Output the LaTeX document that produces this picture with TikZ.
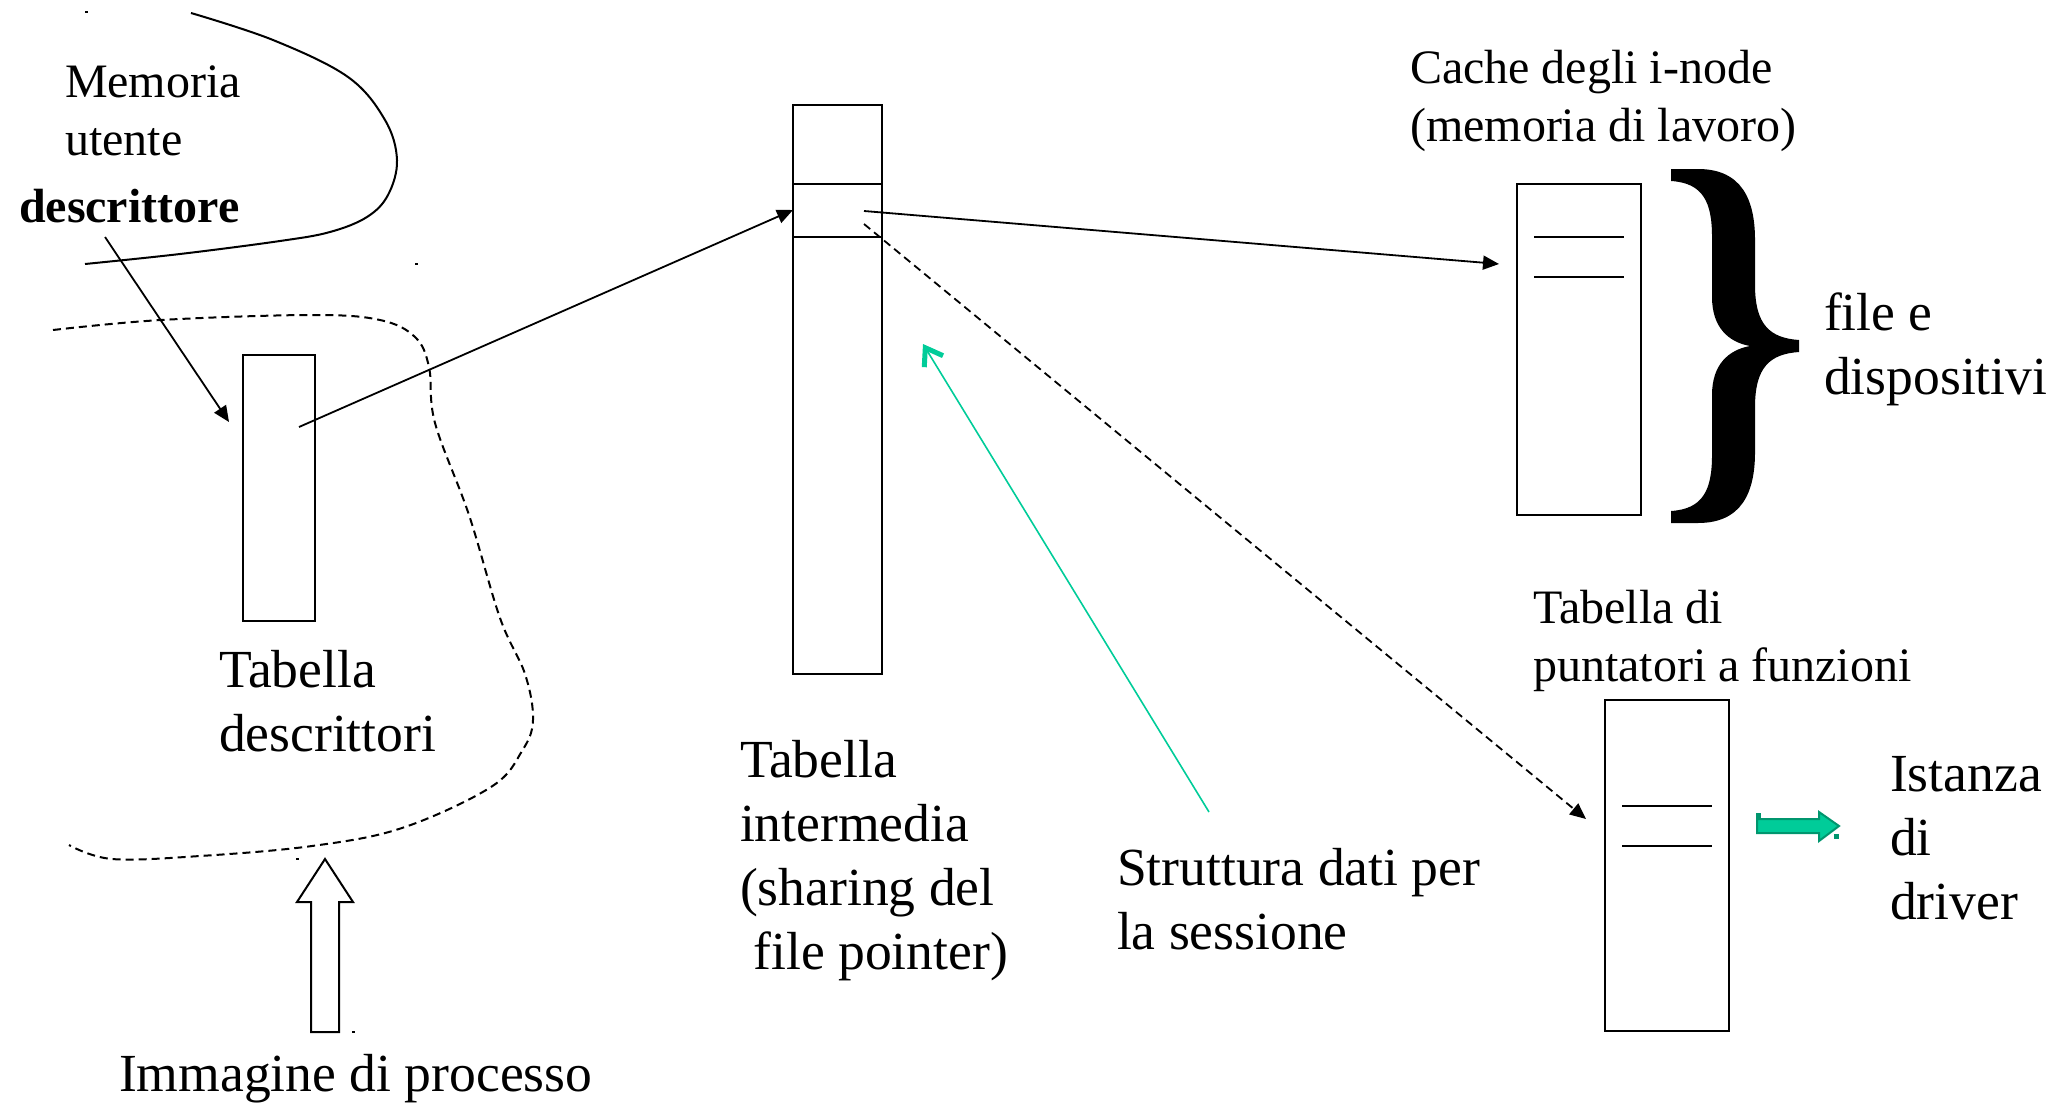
\documentclass[tikz,border=0pt]{standalone}
\usepackage{fontspec}
\setmainfont{Liberation Serif}
\usetikzlibrary{arrows.meta,calc}
\definecolor{teal1}{RGB}{0,204,153}
\definecolor{green1}{RGB}{0,204,153}
\definecolor{green2}{RGB}{0,150,110}
\newcommand\mlines[1]{\vtop{\halign{##\hfil\cr#1\crcr}}}
\newcommand\medf{\fontsize{24pt}{29pt}\selectfont}
\newcommand\bigf{\fontsize{26.8pt}{32pt}\selectfont}
\begin{document}
\begin{tikzpicture}[x=0.5pt,y=-0.5pt,
  lbl/.style={anchor=base west, inner sep=0pt, outer sep=0pt},
  box/.style={draw, line width=1.1pt, inner sep=0pt, outer sep=0pt, anchor=north west},
  rowline/.style={line width=1.1pt},
  conn/.style={line width=0.9pt, -{Triangle[length=8pt,width=7pt]}},
  dashconn/.style={conn, dash pattern=on 4pt off 2.5pt},
  bound/.style={line width=1pt},
  tealarrow/.style={draw=teal1, line width=0.8pt, -{Straight Barb[length=8pt,width=11pt,line width=2.5pt]}},
]
\useasboundingbox (0,0) rectangle (2049,1103);

% boundaries
\draw[bound] plot[smooth, tension=0.6] coordinates {(191,13) (273,40) (348,77) (385,120) (397,160) (388,195) (367,217) (330,232) (280,241) (180,254) (85,264)};
\draw[bound, dash pattern=on 4pt off 2.5pt] plot[smooth, tension=0.6] coordinates {(53,330) (161,320) (312,315) (380,320) (415,337) (429,367) (435,423) (469,515) (500,618) (525,674) (533,720) (522,751) (491,787) (402,828) (312,846) (200,856) (112,859) (69,845)};

% labels
\node[lbl,font=\medf] (memlbl) at (65,97) {\mlines{Memoria\cr utente}};
\node[lbl,font=\medf\bfseries] (desclbl) at (19,222) {descrittore};
\node[lbl,font=\bigf] (tdesclbl) at (219,687) {\mlines{Tabella\cr descrittori}};
\node[lbl,font=\bigf] (imglbl) at (119,1091) {Immagine di processo};
\node[lbl,font=\bigf] (tinterlbl) at (740,777) {\mlines{Tabella\cr intermedia\cr (sharing del\cr \ file pointer)}};
\node[lbl,font=\bigf] (sesslbl) at (1117,885) {\mlines{Struttura dati per\cr la sessione}};
\node[lbl,font=\medf] (cachelbl) at (1410,83) {\mlines{Cache degli i-node\cr (memoria di lavoro)}};
\node[lbl,font=\bigf] (filelbl) at (1824,330) {\mlines{file e\cr dispositivi}};
\node[lbl,font=\medf] (fptrlbl) at (1533,623) {\mlines{Tabella di\cr puntatori a funzioni}};
\node[lbl,font=\bigf] (istlbl) at (1890,791) {\mlines{Istanza\cr di\cr driver}};

% boxes
\node[box, minimum width=36pt, minimum height=133pt] (tdesc) at (243,355) {};
\node[box, minimum width=44.5pt, minimum height=284.5pt] (tinter) at (793,105) {};
\draw[rowline] ($(tinter.north west)+(0,79)$) -- ($(tinter.north east)+(0,79)$);
\draw[rowline] ($(tinter.north west)+(0,132)$) -- ($(tinter.north east)+(0,132)$);
\node[box, minimum width=62pt, minimum height=165.5pt] (cache) at (1517,184) {};
\draw[rowline] ($(cache.north west)+(17,53)$) -- ($(cache.north east)+(-17,53)$);
\draw[rowline] ($(cache.north west)+(17,93)$) -- ($(cache.north east)+(-17,93)$);
\node[box, minimum width=62pt, minimum height=165.5pt] (fptr) at (1605,700) {};
\draw[rowline] ($(fptr.north west)+(17,106)$) -- ($(fptr.north east)+(-17,106)$);
\draw[rowline] ($(fptr.north west)+(17,146)$) -- ($(fptr.north east)+(-17,146)$);

% connectors
\draw[conn] ($(desclbl.base west)+(86,15)$) -- ($(tdesc.north west)+(-14,67)$);
\draw[conn] ($(tdesc.north west)+(56,72)$) -- ($(tinter.north west)+(0,105)$);
\draw[conn] ($(tinter.north east)+(-18,106)$) -- ($(cache.north west)+(-18,80)$);
\draw[dashconn] ($(tinter.north east)+(-18,119)$) -- ($(fptr.north west)+(-19,119)$);
\draw[tealarrow] ($(sesslbl.base west)+(92,-73)$) -- ($(tinter.north east)+(41,239)$);

% brace
\fill (1671,169) -- (1698,169) .. controls (1742,169) and (1755,200) .. (1755,240) -- (1755,285)
  .. controls (1755,325) and (1770,338) .. (1799,340) -- (1799,352)
  .. controls (1770,354) and (1755,367) .. (1755,407) -- (1755,452)
  .. controls (1755,492) and (1742,523) .. (1698,523) -- (1671,523) -- (1671,511)
  .. controls (1703,509) and (1712,490) .. (1712,455) -- (1712,395)
  .. controls (1712,365) and (1728,350) .. (1750,346)
  .. controls (1728,342) and (1712,327) .. (1712,297) -- (1712,237)
  .. controls (1712,202) and (1703,183) .. (1671,181) -- cycle;

% hollow up arrow
\draw[line width=1pt, fill=white] (311,1032) -- (311,902) -- (297,902) -- (325,859) -- (353,902) -- (339,902) -- (339,1032) -- cycle;

% green arrow
\draw[draw=green2, fill=green1, line width=1pt] (1757,819) -- (1819,819) -- (1819,812) -- (1839,826) -- (1819,841) -- (1819,833) -- (1757,833) -- cycle;
\fill[green2] (1756,813) rectangle (1761,819);
\fill[green2] (1834,834) rectangle (1839,839);

% tiny dots
\fill (85,11) rectangle (88,13);
\fill (415,263) rectangle (418,265);
\fill (296,858) rectangle (299,860);
\fill (352,1031) rectangle (355,1033);
\end{tikzpicture}
\end{document}
